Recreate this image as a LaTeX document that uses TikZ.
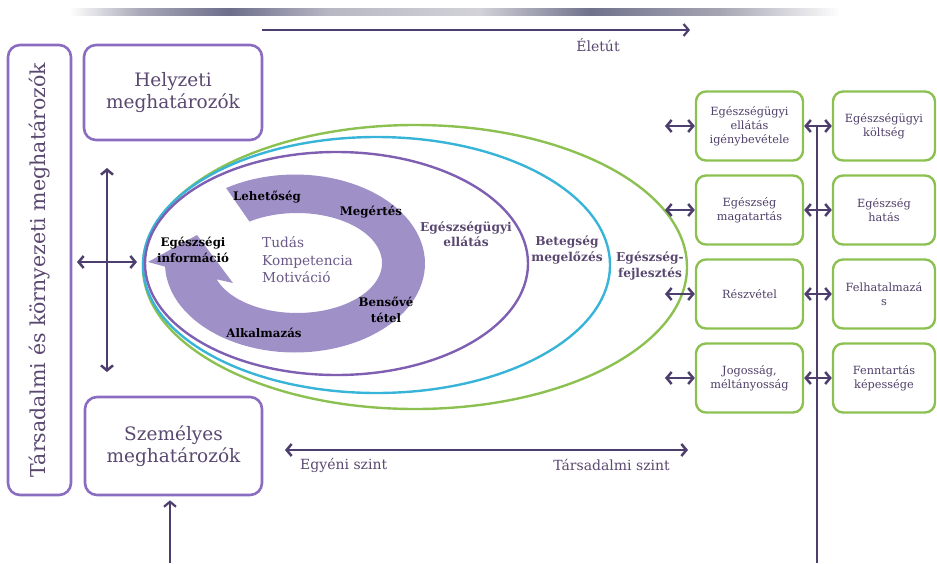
\documentclass[tikz,border=0pt]{standalone}
\usepackage{fontspec}
\setmainfont{DejaVu Serif}
\usetikzlibrary{arrows.meta}
\definecolor{boxpur}{HTML}{8A6CC0}
\definecolor{ringfill}{HTML}{A090C8}
\definecolor{ellpur}{HTML}{7E5FB2}
\definecolor{ellcyan}{HTML}{38B4D8}
\definecolor{grn}{HTML}{8CC152}
\definecolor{arrdark}{HTML}{4E3E6E}
\definecolor{txtpur}{HTML}{5A4870}
\definecolor{boxtxt}{HTML}{4E3E68}
\definecolor{midpur}{HTML}{6A5888}
\definecolor{barA}{HTML}{A8A8B8}
\definecolor{barB}{HTML}{6C6E8A}
\definecolor{barC}{HTML}{B8B8C4}
\definecolor{barD}{HTML}{D2D2D8}
\definecolor{barE}{HTML}{70728C}
\definecolor{barF}{HTML}{A5A5B2}
\tikzset{
  pbox/.style={draw=boxpur, line width=2.6pt, rounded corners=12pt, fill=white, align=center,
    text=txtpur, font=\fontsize{18.5}{22.5}\selectfont, inner sep=0pt},
  gbox/.style={draw=grn, line width=2.4pt, rounded corners=10pt, minimum width=107pt,
    minimum height=69pt, align=center, text=boxtxt, font=\fontsize{11.3}{14}\selectfont, inner sep=0pt},
  gbox2/.style={gbox, minimum width=102pt},
  dbl/.style={{Straight Barb[length=5pt,width=12pt]}-{Straight Barb[length=5pt,width=12pt]}, line width=2.5pt, draw=arrdark},
  sgl/.style={-{Straight Barb[length=5pt,width=12pt]}, line width=2.2pt, draw=arrdark},
  elab/.style={align=center, text=txtpur, font=\bfseries\fontsize{12.2}{15.5}\selectfont, inner sep=0pt},
  rlab/.style={align=center, text=black, font=\bfseries\fontsize{11.8}{15.5}\selectfont, inner sep=0pt},
  axlab/.style={text=txtpur, font=\fontsize{14}{16}\selectfont, inner sep=0pt},
}
\begin{document}
\begin{tikzpicture}[x=1pt,y=-1pt]
\useasboundingbox (0,0) rectangle (937,563);
% top gradient bar
\fill[left color=white, right color=barA] (69,8) rectangle (140,15);
\fill[left color=barA, right color=barB] (139.5,8) rectangle (230,15);
\fill[left color=barB, right color=barC] (229.5,8) rectangle (330,15);
\fill[left color=barC, right color=barD] (329.5,8) rectangle (480,15);
\fill[left color=barD, right color=barE] (479.5,8) rectangle (590,15);
\fill[left color=barE, right color=barF] (589.5,8) rectangle (720,15);
\fill[left color=barF, right color=white] (719.5,8) rectangle (841,15);

% life path arrow
\coordinate (lifeA) at (262,30);
\coordinate (lifeB) at (690,30);
\draw[sgl] (lifeA) -- (lifeB);
\node[axlab] (elet) at (598,45) {Életút};

% ellipses
\draw[grn, line width=2.4pt] (415,267) ellipse [x radius=272pt, y radius=142pt];
\draw[ellcyan, line width=2.4pt] (376.5,265) ellipse [x radius=233.5pt, y radius=128pt];
\draw[ellpur, line width=2.4pt] (336.5,263.5) ellipse [x radius=191.5pt, y radius=111.5pt];

% circular arrow
\fill[ringfill] plot[domain=-122:178, samples=90] ({295+130*cos(\x)},{263.5+89*sin(\x)})
  -- (148,262) -- (197,235) -- (233,283)
  -- plot[domain=161:-124, samples=90] ({297+85*cos(\x)},{263+50*sin(\x)}) -- cycle;

\node[rlab] (leh) at (267,197) {Lehetőség};
\node[rlab] (meg) at (371,212) {Megértés};
\node[rlab] (info) at (193,250) {Egészségi\\információ};
\node[rlab] (bens) at (386,310) {Bensővé\\tétel};
\node[rlab] (alk) at (264,333) {Alkalmazás};
\node[anchor=west, align=left, text=midpur, font=\fontsize{13.7}{17.5}\selectfont, inner sep=0pt] (tud) at (262,260) {Tudás\\Kompetencia\\Motiváció};

\node[elab] (ell1) at (466,234) {Egészségügyi\\ellátás};
\node[elab] (ell2) at (567,250) {Betegség\\megelőzés};
\node[elab] (ell3) at (650,266) {Egészség-\\fejlesztés};

% left boxes
\node[pbox, minimum width=450pt, minimum height=63pt, rotate=90, font=\fontsize{20.5}{24}\selectfont] (tars) at (39.5,270) {Társadalmi és környezeti meghatározók};
\node[pbox, minimum width=178pt, minimum height=95pt] (hely) at (173,92.5) {Helyzeti\\meghatározók};
\node[pbox, minimum width=177pt, minimum height=98pt] (szem) at (173.5,446) {Személyes\\meghatározók};

% left cross arrows
\coordinate (vT) at (107,168);
\coordinate (vB) at (107,372);
\coordinate (hL) at (77,262);
\coordinate (hR) at (137,262);
\draw[dbl] (vT) -- (vB);
\draw[dbl] (hL) -- (hR);

% bottom arrow into personal box
\coordinate (bot) at (170,563);
\draw[sgl, shorten >=4pt] (bot) -- (bot |- szem.south);

% level arrow
\coordinate (lvA) at (285,450);
\coordinate (lvB) at (688,450);
\draw[dbl] (lvA) -- (lvB);
\node[axlab, anchor=west] (egy) at (300,465) {Egyéni szint};
\node[axlab, anchor=east] (tsz) at (670,465) {Társadalmi szint};

% right boxes
\node[gbox] (g11) at (749.5,126) {Egészségügyi\\ellátás\\igénybevétele};
\node[gbox] (g21) at (749.5,210) {Egészség\\magatartás};
\node[gbox] (g31) at (749.5,294) {Részvétel};
\node[gbox] (g41) at (749.5,378) {Jogosság,\\méltányosság};
\node[gbox2] (g12) at (884,126) {Egészségügyi\\költség};
\node[gbox2] (g22) at (884,210) {Egészség\\hatás};
\node[gbox2] (g32) at (884,294) {Felhatalmazá\\s};
\node[gbox2] (g42) at (884,378) {Fenntartás\\képessége};

% vertical line between columns
\coordinate (vlT) at (817,126);
\coordinate (vlB) at (817,563);
\draw[arrdark, line width=2pt] (vlT) -- (vlB);

\coordinate (lx) at (665,0);
\foreach \r in {1,2,3,4}{
  \coordinate (l\r) at (g\r1.west -| lx);
  \draw[dbl] (l\r) -- (g\r1.west);
  \draw[dbl] (g\r1.east) -- (g\r2.west);
}
\end{tikzpicture}
\end{document}
